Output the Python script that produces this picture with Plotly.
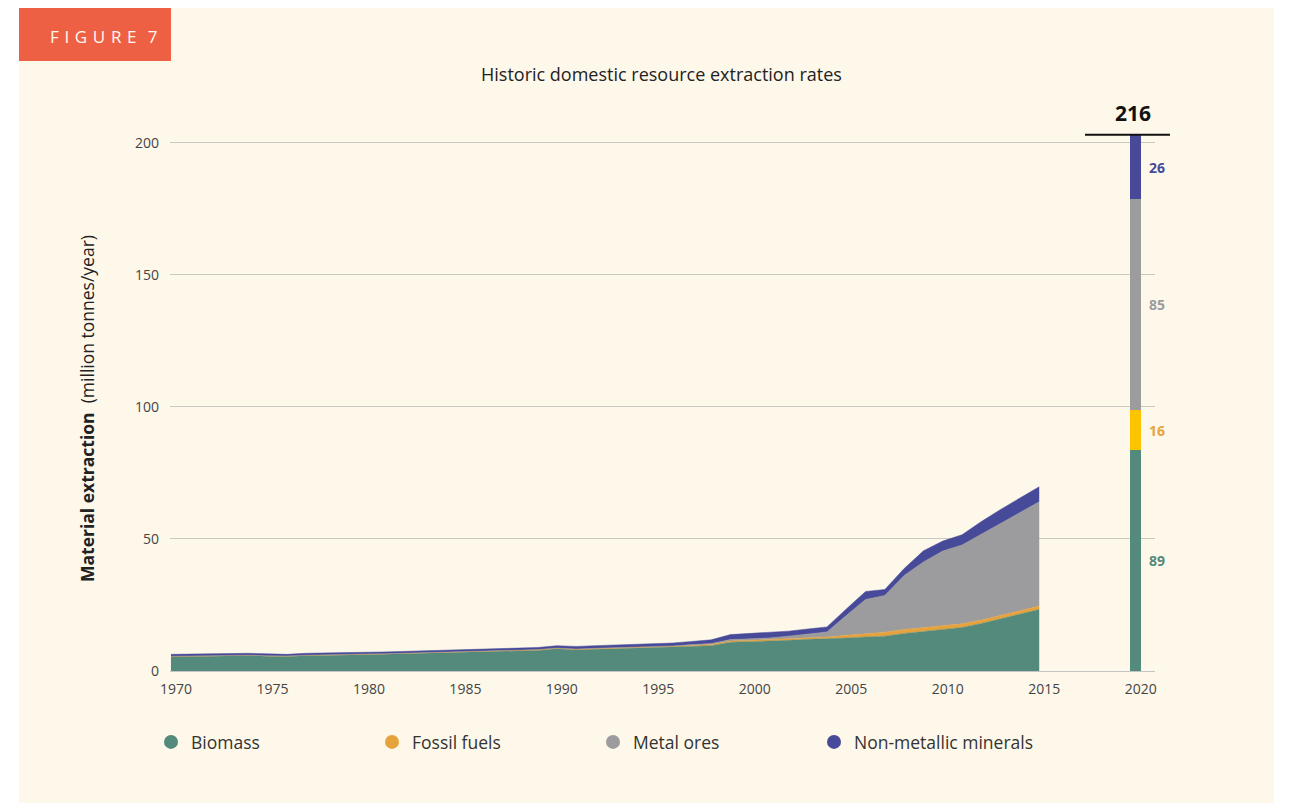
import plotly.graph_objects as go

# --- data ---------------------------------------------------------------
years = list(range(1970, 2016))

biomass = [5.4, 5.5, 5.5, 5.6, 5.8, 5.6, 5.5, 5.8, 6.0, 6.1,          # 1970s
           6.2, 6.3, 6.5, 6.6, 6.8, 7.0, 7.2, 7.3, 7.5, 7.8,          # 1980s
           8.4, 8.0, 8.2, 8.4, 8.6, 8.8, 9.0, 9.3, 9.6, 10.9,         # 1990s
           11.1, 11.3, 11.6, 12.0, 12.2, 12.5, 12.9, 13.2, 14.2, 15.0,  # 2000s
           15.7, 16.5, 18.0, 19.8, 21.5, 23.3]                         # 2010-15
fossil_fuels = [0.2, 0.2, 0.2, 0.2, 0.2, 0.2, 0.2, 0.2, 0.2, 0.2,
                0.2, 0.2, 0.2, 0.2, 0.2, 0.2, 0.3, 0.3, 0.3, 0.3,
                0.3, 0.3, 0.3, 0.3, 0.3, 0.3, 0.3, 0.4, 0.4, 0.5,
                0.5, 0.5, 0.6, 0.6, 0.7, 1.0, 1.3, 1.5, 1.5, 1.5,
                1.5, 1.4, 1.3, 1.3, 1.3, 1.3]
metal_ores = [0.0, 0.0, 0.0, 0.0, 0.0, 0.0, 0.0, 0.0, 0.0, 0.0,
              0.0, 0.0, 0.0, 0.0, 0.0, 0.0, 0.0, 0.0, 0.0, 0.0,
              0.0, 0.0, 0.1, 0.1, 0.1, 0.2, 0.2, 0.3, 0.4, 0.5,
              0.6, 0.7, 1.0, 1.5, 1.9, 7.5, 12.9, 13.9, 20.5, 24.8,
              28.2, 29.8, 32.5, 35.0, 37.3, 39.5]
non_metallic = [0.7, 0.7, 0.7, 0.7, 0.7, 0.7, 0.6, 0.7, 0.7, 0.7,
                0.7, 0.7, 0.7, 0.7, 0.7, 0.8, 0.8, 0.8, 0.8, 0.8,
                0.9, 1.0, 1.0, 1.0, 1.1, 1.1, 1.1, 1.2, 1.4, 1.9,
                2.0, 2.0, 1.9, 1.8, 1.9, 2.5, 3.0, 2.3, 2.6, 4.2,
                3.8, 3.9, 4.8, 5.1, 5.4, 5.7]

categories = ['Biomass', 'Fossil fuels', 'Metal ores', 'Non-metallic minerals']

bar_year = 2020
bar_values = [89, 16, 85, 26]
bar_total = 216

x_ticks = [1970, 1975, 1980, 1985, 1990, 1995, 2000, 2005, 2010, 2015, 2020]
y_ticks = [0, 50, 100, 150, 200]

# --- styles -------------------------------------------------------------
area_colors = ['#548a7b', '#e6a33d', '#9c9c9e', '#474a99']
bar_colors = ['#548a7b', '#fdc300', '#9c9c9e', '#474a99']
label_colors = ['#548a7b', '#e6a33d', '#9c9c9e', '#474a99']
cream = '#fef8ea'
FONT = 'Open Sans'

# page has an 8px body margin; plot area in figure px
OFF = 8
L, R, T, B = 162, 1147, 123, 663


def px(x):
    # screen x -> paper
    return (x - OFF - L) / (R - L)


def py(y):
    # screen y -> paper
    return (B - (y - OFF)) / (B - T)


fig = go.Figure()

# stacked areas
for name, vals, color in zip(categories, [biomass, fossil_fuels, metal_ores, non_metallic], area_colors):
    fig.add_trace(go.Scatter(
        x=years, y=vals, name=name, stackgroup='hist', mode='lines',
        line=dict(width=0.5, color=color), fillcolor=color, showlegend=False,
    ))

# 2020 stacked bar (own scale, as in the original graphic)
for name, val, color in zip(categories, bar_values, bar_colors):
    fig.add_trace(go.Bar(
        x=[bar_year], y=[val], name=name, width=0.6, yaxis='y2',
        marker=dict(color=color, line=dict(width=0)), showlegend=False,
    ))

# legend entries as circles
for name, color in zip(categories, area_colors):
    fig.add_trace(go.Scatter(
        x=[None], y=[None], mode='markers', name=name,
        marker=dict(color=color, size=14, symbol='circle'),
    ))

# value labels next to the bar
cum = 0
for val, color in zip(bar_values, label_colors):
    fig.add_annotation(
        x=bar_year, y=cum + val / 2, xref='x', yref='y2', text=f'<b>{val}</b>',
        showarrow=False, xshift=21, xanchor='center', yanchor='middle',
        font=dict(family=FONT, size=14, color=color),
    )
    cum += val

fig.add_annotation(
    x=bar_year, y=bar_total, xref='x', yref='y2', text='<b>216</b>', showarrow=False,
    xanchor='center', yanchor='bottom', yshift=6, xshift=-3,
    font=dict(family=FONT, size=21, color='#111111'),
)
fig.add_shape(type='line', xref='paper', yref='y2', x0=px(1085), x1=px(1170),
              y0=bar_total, y1=bar_total, line=dict(color='#111111', width=2))

# cream panel and figure tag
fig.add_shape(type='rect', xref='paper', yref='paper', x0=px(19), x1=px(1274),
              y0=py(8), y1=py(803), fillcolor=cream, line=dict(width=0), layer='below')
fig.add_shape(type='rect', xref='paper', yref='paper', x0=px(19), x1=px(171),
              y0=py(8), y1=py(61), fillcolor='#ee6044', line=dict(width=0), layer='below')
fig.add_annotation(x=px(104), y=py(36), xref='paper', yref='paper',
                   text='\u2004'.join('FIGURE') + '\u2004\u20047',
                   showarrow=False, xanchor='center', yanchor='middle',
                   font=dict(family=FONT, size=17, color='#fff8f0'))

# title and y-axis title
fig.add_annotation(x=px(661), y=py(74), xref='paper', yref='paper',
                   text='Historic domestic resource extraction rates', showarrow=False,
                   xanchor='center', yanchor='middle',
                   font=dict(family=FONT, size=18, color='#222222'))
fig.add_annotation(x=px(87), y=py(409), xref='paper', yref='paper', textangle=-90,
                   text='<b>Material extraction</b>  (million tonnes/year)', showarrow=False,
                   xanchor='center', yanchor='middle',
                   font=dict(family=FONT, size=17.5, color='#222222'))

fig.update_layout(
    width=1291, height=805,
    margin=dict(l=L, r=1291 - R, t=T, b=805 - B),
    paper_bgcolor='#ffffff', plot_bgcolor='rgba(0,0,0,0)',
    barmode='stack',
    font=dict(family=FONT, color='#444444'),
    xaxis=dict(range=[1969.95, 2021.0], tickvals=x_ticks, showgrid=False, zeroline=False,
               showline=True, linecolor='#c4c4c4', ticks='', ticklabelshift=5,
               ticklabelstandoff=5, tickfont=dict(size=14, color='#444444')),
    yaxis=dict(range=[0, 204.5], tickvals=y_ticks, showgrid=True, gridcolor='#cbc8c1',
               zeroline=False, ticks='', ticklabelstandoff=10,
               tickfont=dict(size=14, color='#444444')),
    yaxis2=dict(range=[0, 217.5], overlaying='y', visible=False),
    legend=dict(orientation='h', x=px(151), y=py(742), yanchor='middle', xanchor='left',
                traceorder='normal', entrywidth=176,
                font=dict(family=FONT, size=17.5, color='#333333'),
                bgcolor='rgba(0,0,0,0)'),
)

fig.write_html('out.html')
